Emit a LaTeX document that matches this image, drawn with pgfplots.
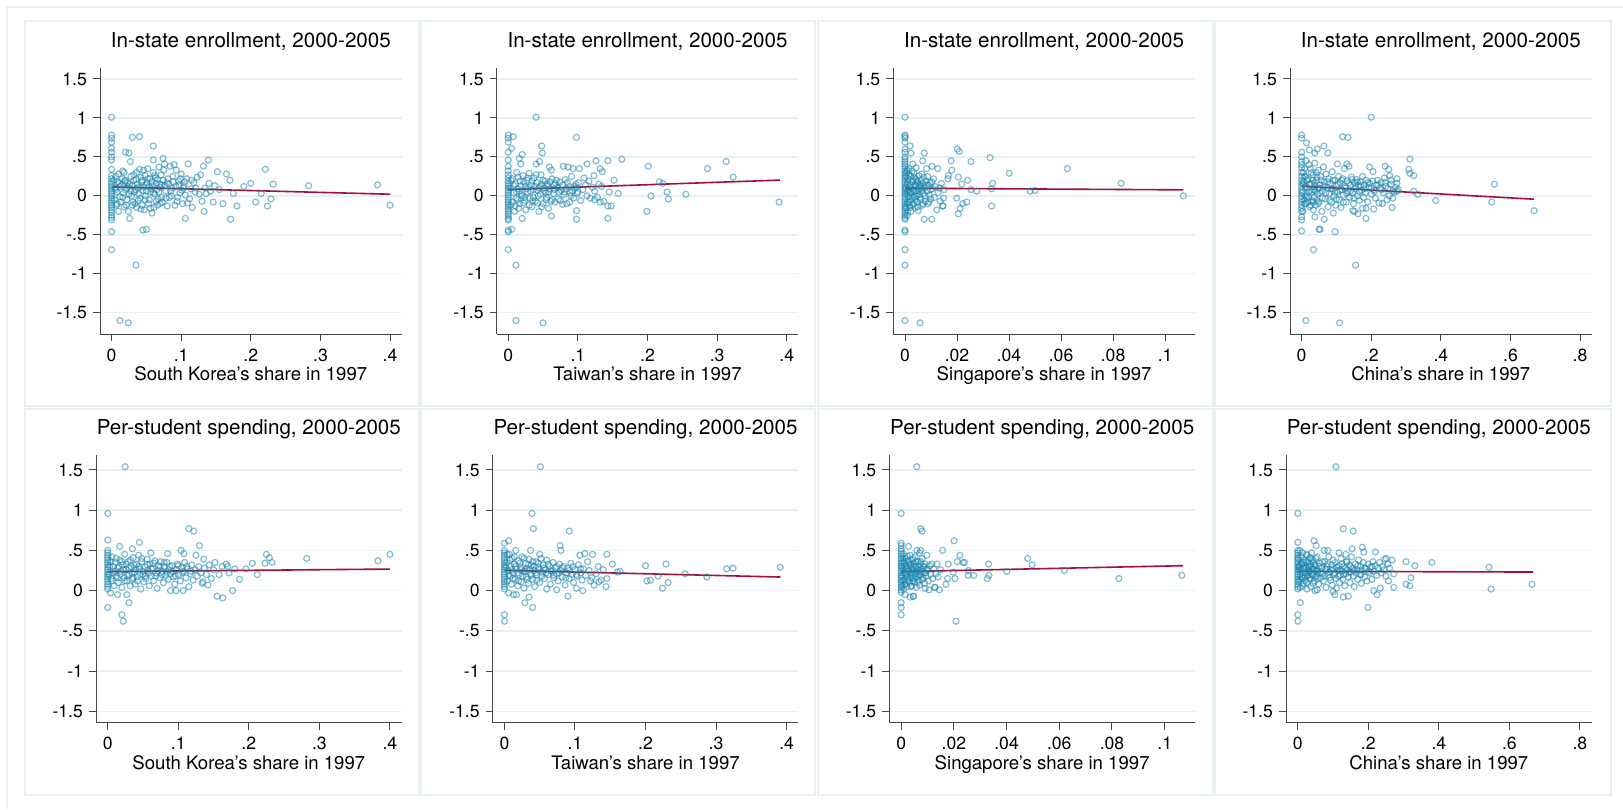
\documentclass[border=0pt]{standalone}
\usepackage{fontspec}
\setmainfont{TeX Gyre Heros}
\usepackage{pgfplots}
\pgfplotsset{compat=1.18}

\definecolor{mblue}{RGB}{26,133,173}
\definecolor{fitred}{RGB}{165,15,52}
\definecolor{gridc}{RGB}{233,240,242}
\definecolor{panelc}{RGB}{232,240,242}
\definecolor{axisgray}{RGB}{70,70,70}

\pgfplotsset{
  panel/.style={
    scale only axis, clip=false,
    axis x line*=bottom, axis y line*=left,
    axis line style={draw=axisgray, line width=0.5pt},
    tick align=outside, major tick length=3.5pt,
    tick style={draw=axisgray, line width=0.5pt},
    ymajorgrids, grid style={draw=gridc, line width=0.7pt},
    scaled ticks=false,
    /pgf/number format/assume math mode=true,
    ytick={-1.5,-1,-0.5,0,0.5,1,1.5},
    yticklabels={-1.5,-1,-.5,0,.5,1,1.5},
    tick label style={font=\fontsize{8.8}{10}\selectfont, inner sep=0pt},
    yticklabel style={anchor=east, xshift=-2.85pt},
    xticklabel style={anchor=base, yshift=-9.9pt},
    title style={font=\fontsize{10.3}{12}\selectfont, at={(axis description cs:0.5,1)}, anchor=base, yshift=4.2pt},
    xlabel style={font=\fontsize{9.3}{11}\selectfont, at={(axis description cs:0.5,0)}, anchor=base, yshift=-23.2pt},
  },
  toprow/.style={panel, width=150.85pt, height=133.3pt, ymin=-1.777, ymax=1.645,
    title={In-state enrollment, 2000-2005}},
  botrow/.style={panel, width=152.85pt, height=133.85pt, ymin=-1.642, ymax=1.686,
    title={Per-student spending, 2000-2005}},
  korea/.style={xmin=-0.0166, xmax=0.4167, xtick={0,0.1,0.2,0.3,0.4}, xticklabels={0,.1,.2,.3,.4},
    xlabel={South Korea's share in 1997}},
  taiwan/.style={xmin=-0.0166, xmax=0.4167, xtick={0,0.1,0.2,0.3,0.4}, xticklabels={0,.1,.2,.3,.4},
    xlabel={Taiwan's share in 1997}},
  singapore/.style={xmin=-0.0045, xmax=0.1115, xtick={0,0.02,0.04,0.06,0.08,0.1}, xticklabels={0,.02,.04,.06,.08,.1},
    xlabel={Singapore's share in 1997}},
  china/.style={xmin=-0.0334, xmax=0.8334, xtick={0,0.2,0.4,0.6,0.8}, xticklabels={0,.2,.4,.6,.8},
    xlabel={China's share in 1997}},
  sc/.style={only marks, mark=o, mark size=1.5pt, draw=mblue, draw opacity=0.55,
    mark options={line width=0.6pt}},
  fit/.style={no marks, draw=fitred, line width=0.8pt},
}

\begin{document}
\begin{tikzpicture}
\path[use as bounding box] (0,0) rectangle (811.5pt,404.5pt);
\draw[panelc, line width=0.8pt] (3.5pt,0pt) -- (3.5pt,401pt) -- (811.5pt,401pt);
\foreach \a/\b in {12.5/209.5, 210.5/407.5, 409/606.5, 607.5/805.5}{
  \draw[panelc, line width=1pt] (\a pt,201.5pt) rectangle (\b pt,394pt);
  \draw[panelc, line width=1pt] (\a pt,7pt) rectangle (\b pt,200pt);
}

% ---------- top row: in-state enrollment ----------
\begin{axis}[toprow, korea, at={(50pt,237.35pt)}, anchor=south west]
\addplot[sc] coordinates {
(0,1.01) (0,0.78) (0,0.74) (0,0.69) (0,0.61) (0,0.56) (0,0.50) (0,0.46) (0,0.34) (0,0.26)
(0,0.22) (0,0.18) (0,0.15) (0,0.12) (0,0.09) (0,0.06) (0,0.03) (0,0.0) (0,-0.03) (0,-0.06)
(0,-0.09) (0,-0.12) (0,-0.15) (0,-0.18) (0,-0.21) (0,-0.25) (0,-0.28) (0,-0.31) (0,-0.46) (0,-0.69)
(0.003,0.2) (0.004,-0.05) (0.005,0.1) (0.006,0.25) (0.007,-0.12) (0.008,0.05) (0.009,0.18) (0.01,-0.2)
(0.012,-1.60) (0.024,-1.63) (0.035,-0.89) (0.045,-0.44) (0.05,-0.43) (0.03,0.75) (0.04,0.76) (0.06,0.64)
(0.02,0.56) (0.025,0.55) (0.027,0.44) (0.074,0.48) (0.06,0.46)
(0.012,0.12) (0.015,0.22) (0.016,-0.02) (0.018,0.30) (0.02,0.08) (0.021,-0.12) (0.023,0.17) (0.025,0.02)
(0.026,-0.29) (0.028,0.25) (0.03,0.13) (0.031,-0.08) (0.033,0.05) (0.035,0.21) (0.036,-0.15) (0.038,0.10)
(0.04,0.34) (0.041,-0.03) (0.043,0.18) (0.045,0.07) (0.047,-0.18) (0.048,0.26) (0.05,0.14) (0.052,0.35)
(0.054,-0.05) (0.055,0.22) (0.057,0.09) (0.058,-0.22) (0.06,0.30) (0.062,0.02) (0.064,0.16) (0.066,-0.12)
(0.068,0.37) (0.07,0.11) (0.072,-0.02) (0.074,0.20) (0.076,0.41) (0.078,0.06) (0.08,-0.13) (0.082,0.15)
(0.084,0.38) (0.086,0.0) (0.088,0.25) (0.09,0.40) (0.092,0.12) (0.094,-0.07) (0.096,0.19) (0.098,0.04)
(0.1,0.28) (0.102,-0.1) (0.104,0.13) (0.106,0.01) (0.108,0.22) (0.11,0.41) (0.112,-0.04) (0.114,0.09)
(0.116,-0.15) (0.118,0.17) (0.12,0.05) (0.123,0.24) (0.126,0.02) (0.128,0.27) (0.13,-0.07) (0.132,0.38)
(0.134,0.1) (0.136,0.03) (0.139,0.46) (0.14,0.16) (0.142,0.06) (0.146,-0.08) (0.148,0.13) (0.133,-0.2)
(0.106,-0.29) (0.152,0.31) (0.155,0.08) (0.16,-0.1) (0.165,0.28) (0.17,0.20) (0.171,-0.30) (0.175,0.03)
(0.18,-0.13) (0.19,0.12) (0.2,0.16) (0.207,-0.08) (0.221,0.34) (0.224,-0.13) (0.229,-0.04) (0.232,0.15)
(0.215,0.03) (0.283,0.13) (0.382,0.14) (0.4,-0.12)
(0.011,0.16) (0.013,-0.08) (0.017,0.04) (0.019,0.19) (0.022,-0.05) (0.024,0.12) (0.029,0.0) (0.032,0.2)
(0.034,-0.1) (0.037,0.15) (0.039,0.02) (0.042,0.24) (0.044,-0.12) (0.046,0.11) (0.049,0.0) (0.051,0.17)
(0.053,-0.1) (0.056,0.05) (0.059,0.13) (0.061,-0.15) (0.063,0.23) (0.065,0.08) (0.067,-0.04) (0.069,0.15)
(0.071,0.27) (0.073,-0.08) (0.077,0.13) (0.081,0.22) (0.083,-0.02) (0.087,0.1) (0.091,-0.12) (0.093,0.33)
(0.097,0.14) (0.101,0.07) (0.105,0.18)
(0.006,0.08) (0.008,-0.1) (0.01,0.28) (0.012,-0.01) (0.014,0.14) (0.016,0.32) (0.018,-0.14) (0.02,0.2)
(0.022,0.1) (0.024,-0.2) (0.026,0.15) (0.028,0.06) (0.03,-0.12) (0.032,0.27) (0.034,0.08) (0.036,0.3)
(0.038,-0.06) (0.04,0.12) (0.042,-0.17) (0.044,0.2) (0.046,0.33) (0.048,-0.05) (0.05,0.06) (0.052,0.22)
(0.054,0.12) (0.056,-0.16) (0.058,0.18) (0.06,0.04) (0.062,0.26) (0.064,-0.07) (0.066,0.21) (0.068,0.05)
(0.07,-0.1) (0.072,0.14) (0.075,0.33) (0.078,-0.03) (0.08,0.17) (0.085,0.06) (0.089,0.18) (0.095,-0.02)
(0.099,0.22) (0.103,0.1) (0.109,-0.09) (0.115,0.2) (0.121,0.1)
};
\addplot[fit] coordinates {(0,0.115) (0.4,0.021)};
\end{axis}

\begin{axis}[toprow, taiwan, at={(248.35pt,237.35pt)}, anchor=south west]
\addplot[sc] coordinates {
(0,0.78) (0,0.74) (0,0.69) (0,0.56) (0,0.46) (0,0.38) (0,0.32) (0,0.27) (0,0.23) (0,0.19)
(0,0.16) (0,0.13) (0,0.10) (0,0.07) (0,0.04) (0,0.01) (0,-0.02) (0,-0.05) (0,-0.08) (0,-0.11)
(0,-0.14) (0,-0.17) (0,-0.2) (0,-0.23) (0,-0.26) (0,-0.29) (0,-0.31) (0,-0.44) (0,-0.46) (0,-0.69)
(0.005,0.61) (0.007,0.76) (0.005,-0.43)
(0.04,1.01) (0.098,0.75) (0.048,0.64) (0.049,0.55) (0.016,0.48) (0.02,0.53) (0.018,0.41) (0.04,0.41)
(0.045,0.44) (0.059,0.37) (0.062,0.33) (0.079,0.38) (0.086,0.37) (0.093,0.35) (0.102,0.35) (0.113,0.41)
(0.126,0.45) (0.143,0.45) (0.163,0.47) (0.132,0.35) (0.123,0.26) (0.152,0.20) (0.134,0.12) (0.158,0.03)
(0.201,0.38) (0.217,0.18) (0.222,0.16) (0.205,0.0) (0.228,0.05) (0.23,-0.04) (0.255,0.02) (0.286,0.35)
(0.313,0.44) (0.323,0.24) (0.389,-0.08) (0.199,-0.2) (0.143,-0.13) (0.148,-0.13) (0.143,-0.29) (0.098,-0.19)
(0.098,-0.3) (0.062,-0.26) (0.02,-0.29) (0.011,-0.89) (0.011,-1.6) (0.05,-1.63) (0.132,-0.08) (0.124,-0.05)
(0.003,0.1) (0.004,-0.12) (0.006,0.22) (0.008,0.04) (0.009,-0.2) (0.01,0.15) (0.012,0.3) (0.013,-0.05)
(0.014,0.09) (0.015,-0.16) (0.017,0.19) (0.019,0.02) (0.021,0.26) (0.022,-0.09) (0.024,0.12) (0.025,-0.18)
(0.027,0.2) (0.028,0.05) (0.03,0.29) (0.031,-0.03) (0.033,0.14) (0.034,-0.14) (0.036,0.08) (0.037,0.23)
(0.039,-0.07) (0.041,0.17) (0.043,0.0) (0.044,-0.2) (0.046,0.12) (0.047,0.27) (0.05,-0.1) (0.052,0.06)
(0.053,0.19) (0.055,-0.02) (0.057,0.13) (0.058,-0.16) (0.06,0.09) (0.063,0.22) (0.065,0.03) (0.067,-0.08)
(0.068,0.16) (0.07,0.11) (0.072,-0.04) (0.074,0.18) (0.076,0.07) (0.078,-0.11) (0.08,0.02) (0.082,0.21)
(0.084,-0.1) (0.087,0.12) (0.089,0.04) (0.091,0.25) (0.094,-0.03) (0.096,0.1) (0.099,0.03) (0.101,0.17)
(0.104,-0.06) (0.107,0.08) (0.109,0.23) (0.111,0.14) (0.113,0.0) (0.116,0.19) (0.118,-0.03) (0.121,0.11)
(0.124,0.06) (0.128,-0.02) (0.13,0.15) (0.137,-0.07) (0.135,0.31) (0.145,0.05)
(0.011,-0.03) (0.016,0.06) (0.023,-0.02) (0.029,0.11) (0.035,-0.06) (0.042,0.07) (0.048,0.15) (0.054,0.04)
(0.061,-0.07) (0.066,0.14) (0.073,0.05) (0.083,0.09) (0.088,-0.08) (0.092,0.06) (0.097,0.15)
(0.004,0.2) (0.006,-0.08) (0.008,0.13) (0.01,-0.13) (0.012,0.05) (0.014,0.24) (0.016,-0.1) (0.018,0.13)
(0.02,0.0) (0.022,0.18) (0.024,-0.06) (0.026,0.09) (0.028,0.23) (0.03,-0.12) (0.032,0.06) (0.034,0.19)
(0.036,-0.02) (0.038,0.12) (0.04,0.27) (0.042,-0.09) (0.044,0.1) (0.046,0.02) (0.048,-0.14) (0.05,0.2)
(0.052,0.1) (0.054,-0.05) (0.056,0.15) (0.058,0.05) (0.06,0.18) (0.063,-0.05) (0.066,0.08) (0.069,0.2)
(0.072,0.1) (0.075,-0.06) (0.078,0.14) (0.081,0.05) (0.085,0.17) (0.09,0.0) (0.095,0.12) (0.1,0.05)
};
\addplot[fit] coordinates {(0,0.081) (0.39,0.202)};
\end{axis}

\begin{axis}[toprow, singapore, at={(446.65pt,237.35pt)}, anchor=south west]
\addplot[sc] coordinates {
(0,1.01) (0,0.78) (0,0.76) (0,0.74) (0,0.69) (0,0.6) (0,0.56) (0,0.5) (0,0.47) (0,0.44)
(0,0.41) (0,0.38) (0,0.35) (0,0.32) (0,0.29) (0,0.26) (0,0.23) (0,0.2) (0,0.17) (0,0.14)
(0,0.11) (0,0.08) (0,0.05) (0,0.02) (0,-0.01) (0,-0.04) (0,-0.07) (0,-0.1) (0,-0.13) (0,-0.16)
(0,-0.19) (0,-0.22) (0,-0.25) (0,-0.28) (0,-0.3) (0,-0.44) (0,-0.46) (0,-0.69) (0,-0.89) (0,-1.6)
(0.0058,-1.63)
(0.0006,0.3) (0.0007,-0.1) (0.0008,0.15) (0.001,0.05) (0.001,-0.2) (0.0012,0.22) (0.0014,0.0) (0.0015,0.35)
(0.0016,-0.08) (0.0018,0.12) (0.002,-0.15) (0.002,0.64) (0.0023,0.55) (0.0022,0.25) (0.0024,0.04) (0.0026,-0.05)
(0.0028,0.18) (0.003,0.41) (0.003,-0.12) (0.0032,0.08) (0.0034,0.29) (0.0036,-0.02) (0.0038,0.14) (0.004,-0.15)
(0.0042,0.21) (0.0044,0.06) (0.0046,-0.08) (0.0048,0.17) (0.005,0.1) (0.0051,-0.19) (0.0053,0.26) (0.0055,0.02)
(0.0057,0.13) (0.006,-0.05) (0.0062,0.2) (0.0064,0.07) (0.0066,-0.12) (0.0068,0.45) (0.0068,0.16) (0.007,0.03)
(0.0072,0.24) (0.0074,0.55) (0.0074,-0.3) (0.0076,0.11) (0.0078,-0.07) (0.008,0.19) (0.0083,0.35) (0.0085,0.06)
(0.0088,-0.1) (0.009,0.14) (0.0093,0.01) (0.0096,0.17) (0.0099,-0.04) (0.0103,0.38) (0.0103,-0.3) (0.0106,0.09)
(0.011,0.22) (0.0113,-0.02) (0.0116,0.12) (0.0122,-0.18) (0.0126,0.35) (0.0128,0.04) (0.0132,0.1) (0.0135,-0.07)
(0.014,0.16) (0.0145,-0.13) (0.0148,-0.03) (0.015,0.08)
(0.0201,0.6) (0.0208,0.57) (0.0177,0.45) (0.018,0.33) (0.0167,0.26) (0.0327,0.49) (0.0254,0.44) (0.0205,0.24)
(0.0241,0.2) (0.0218,0.15) (0.0337,0.16) (0.0333,0.09) (0.0254,0.08) (0.0276,0.06) (0.0401,0.29) (0.0481,0.06)
(0.05,0.07) (0.0624,0.35) (0.0831,0.16) (0.107,0.0) (0.0199,-0.03) (0.0222,-0.1) (0.0237,-0.08) (0.0212,-0.16)
(0.0205,-0.23) (0.0333,-0.13) (0.0145,-0.13) (0.0165,0.22)
(0.0003,0.1) (0.0004,-0.15) (0.0005,0.25) (0.0006,0.02) (0.0008,-0.25) (0.0009,0.33) (0.001,0.18) (0.0011,-0.08)
(0.0013,0.08) (0.0015,0.27) (0.0017,-0.12) (0.0019,0.04) (0.0021,0.15) (0.0023,-0.2) (0.0025,0.1) (0.0027,0.32)
(0.0029,-0.01) (0.0031,0.2) (0.0033,-0.1) (0.0035,0.06) (0.0037,0.24) (0.0039,-0.05) (0.0041,0.12) (0.0043,0.36)
(0.0045,0.0) (0.0047,0.19) (0.0049,-0.14) (0.0052,0.07) (0.0055,0.15) (0.0058,-0.02) (0.0061,0.11) (0.0065,0.28)
(0.0069,-0.1) (0.0073,0.1) (0.0077,0.0) (0.0082,0.14) (0.0087,0.25) (0.0092,-0.08) (0.0098,0.08) (0.0104,0.18)
};
\addplot[fit] coordinates {(0,0.098) (0.107,0.077)};
\end{axis}

\begin{axis}[toprow, china, at={(645pt,237.35pt)}, anchor=south west]
\addplot[sc] coordinates {
(0,0.78) (0,0.74) (0,0.56) (0,0.5) (0,0.44) (0,0.4) (0,0.36) (0,0.3) (0,0.25) (0,0.2)
(0,0.16) (0,0.12) (0,0.08) (0,0.04) (0,0.0) (0,-0.04) (0,-0.08) (0,-0.12) (0,-0.16) (0,-0.2)
(0,-0.27) (0,-0.31) (0,-0.45)
(0.2,1.01) (0.118,0.76) (0.133,0.75) (0.014,0.68) (0.064,0.64) (0.075,0.55) (0.045,0.6) (0.038,0.55)
(0.022,0.59) (0.311,0.47) (0.308,0.34) (0.311,0.29) (0.322,0.26) (0.24,0.38) (0.25,0.34) (0.195,0.37)
(0.205,0.31) (0.103,0.41) (0.13,0.41) (0.274,0.22) (0.274,0.16) (0.257,0.2) (0.253,0.26) (0.322,0.06)
(0.334,0.02) (0.385,-0.06) (0.546,-0.08) (0.554,0.15) (0.668,-0.19) (0.26,-0.15) (0.262,-0.03) (0.207,-0.17)
(0.185,-0.29) (0.175,-0.16) (0.185,-0.16) (0.152,-0.2) (0.147,-0.19) (0.162,-0.23) (0.096,-0.46) (0.05,-0.43)
(0.053,-0.43) (0.034,-0.69) (0.155,-0.89) (0.012,-1.6) (0.109,-1.63) (0.034,-0.18) (0.038,-0.27) (0.065,-0.3)
(0.091,-0.22)
(0.005,0.3) (0.008,-0.1) (0.01,0.12) (0.013,0.45) (0.015,-0.02) (0.018,0.22) (0.02,0.05) (0.023,-0.14)
(0.025,0.35) (0.028,0.15) (0.03,-0.06) (0.033,0.27) (0.035,0.08) (0.038,0.42) (0.04,-0.12) (0.043,0.2)
(0.045,0.02) (0.048,0.33) (0.05,-0.08) (0.053,0.14) (0.055,0.25) (0.058,-0.2) (0.06,0.06) (0.063,0.37)
(0.065,0.18) (0.068,-0.04) (0.07,0.28) (0.073,0.1) (0.076,-0.14) (0.078,0.22) (0.08,0.03) (0.083,0.16)
(0.086,-0.08) (0.088,0.31) (0.09,0.09) (0.093,0.0) (0.096,0.2) (0.098,-0.12) (0.1,0.13) (0.103,0.05)
(0.106,0.25) (0.108,-0.05) (0.11,0.17) (0.113,-0.15) (0.115,0.08) (0.118,0.22) (0.12,0.01) (0.123,0.35)
(0.125,0.12) (0.128,-0.08) (0.13,0.19) (0.133,0.06) (0.136,0.38) (0.138,-0.02) (0.14,0.14) (0.143,0.24)
(0.146,0.04) (0.149,-0.1) (0.152,0.17) (0.155,0.09) (0.158,0.21) (0.16,0.0) (0.163,0.13) (0.166,-0.06)
(0.169,0.18) (0.172,0.07) (0.175,0.25) (0.178,-0.02) (0.18,0.14) (0.183,0.04) (0.186,0.2) (0.19,-0.08)
(0.193,0.11) (0.196,0.16) (0.2,0.02) (0.204,0.19) (0.208,0.08) (0.212,-0.03) (0.215,0.14) (0.218,0.2)
(0.222,-0.09) (0.225,0.1) (0.228,0.17) (0.232,-0.1) (0.235,0.04) (0.238,0.23) (0.242,0.12) (0.245,-0.05)
(0.248,0.09) (0.252,0.0) (0.256,0.15) (0.262,0.07) (0.266,0.05) (0.27,0.11) (0.274,0.06) (0.278,0.08)
(0.003,0.05) (0.004,-0.2) (0.006,0.18) (0.007,-0.05) (0.009,0.35) (0.011,0.0) (0.012,0.25) (0.016,0.1)
(0.019,-0.08) (0.021,0.4) (0.024,0.16) (0.027,-0.12) (0.029,0.05) (0.032,0.2) (0.036,-0.02) (0.039,0.12)
(0.042,0.3) (0.044,-0.06) (0.047,0.1) (0.052,0.04)
(0.004,0.15) (0.008,0.25) (0.012,-0.1) (0.016,0.2) (0.02,-0.02) (0.024,0.07) (0.028,0.3) (0.032,-0.08)
(0.036,0.17) (0.04,0.06) (0.044,0.24) (0.048,-0.1) (0.052,0.1) (0.056,0.2) (0.06,-0.03) (0.065,0.12)
(0.07,0.04) (0.075,0.18) (0.08,-0.06) (0.085,0.09) (0.09,0.2) (0.095,0.05) (0.1,-0.04) (0.105,0.15)
(0.11,0.07) (0.115,0.2) (0.12,-0.08) (0.125,0.1) (0.13,0.03) (0.135,0.16) (0.14,0.06) (0.145,0.21)
(0.15,-0.03) (0.155,0.12) (0.16,0.18) (0.165,0.05) (0.17,0.13) (0.18,0.09) (0.19,0.17) (0.2,0.1)
(0.21,0.06) (0.22,0.14) (0.23,0.08) (0.24,0.17)
};
\addplot[fit] coordinates {(0,0.124) (0.667,-0.043)};
\end{axis}

% ---------- bottom row: per-student spending ----------
\begin{axis}[botrow, korea, at={(48pt,43.15pt)}, anchor=south west]
\addplot[sc] coordinates {
(0,0.96) (0,0.63) (0,0.5) (0,0.47) (0,0.44) (0,0.41) (0,0.38) (0,0.35) (0,0.32) (0,0.29)
(0,0.26) (0,0.23) (0,0.2) (0,0.17) (0,0.14) (0,0.11) (0,0.08) (0,0.05) (0,0.02) (0,-0.21)
(0.004,-0.03)
(0.0247,1.54) (0.115,0.77) (0.122,0.74) (0.13,0.56) (0.045,0.6) (0.017,0.55) (0.035,0.52) (0.061,0.47)
(0.085,0.46) (0.104,0.5) (0.108,0.46) (0.125,0.44) (0.136,0.39) (0.152,0.35) (0.168,0.33) (0.17,0.3)
(0.196,0.27) (0.205,0.34) (0.212,0.2) (0.187,0.14) (0.177,0.0) (0.155,-0.07) (0.163,-0.09) (0.142,0.07)
(0.135,0.11) (0.225,0.45) (0.229,0.41) (0.233,0.35) (0.223,0.34) (0.282,0.4) (0.383,0.37) (0.4,0.45)
(0.02,-0.3) (0.022,-0.38) (0.03,-0.15) (0.027,-0.05) (0.014,-0.05) (0.089,0.0) (0.097,0.0) (0.107,0.0)
(0.003,0.3) (0.005,0.15) (0.006,0.42) (0.008,0.22) (0.009,0.06) (0.011,0.35) (0.012,0.18) (0.014,0.28)
(0.015,0.1) (0.017,0.38) (0.018,0.24) (0.02,0.04) (0.021,0.32) (0.023,0.16) (0.024,0.45) (0.026,0.26)
(0.027,0.12) (0.029,0.36) (0.03,0.2) (0.032,0.06) (0.033,0.3) (0.035,0.14) (0.036,0.41) (0.038,0.23)
(0.039,0.08) (0.041,0.33) (0.042,0.17) (0.044,0.44) (0.045,0.27) (0.047,0.02) (0.048,0.36) (0.05,0.2)
(0.051,0.11) (0.053,0.29) (0.054,0.15) (0.056,0.39) (0.057,0.25) (0.059,0.06) (0.06,0.33) (0.062,0.18)
(0.064,0.28) (0.065,0.12) (0.067,0.37) (0.069,0.22) (0.07,0.03) (0.072,0.31) (0.074,0.16) (0.075,0.36)
(0.077,0.24) (0.079,0.1) (0.08,0.3) (0.082,0.19) (0.084,0.35) (0.086,0.14) (0.087,0.26) (0.089,0.21)
(0.091,0.31) (0.093,0.17) (0.095,0.08) (0.097,0.26) (0.099,0.33) (0.101,0.2) (0.103,0.12) (0.105,0.29)
(0.107,0.24) (0.109,0.35) (0.111,0.16) (0.113,0.27) (0.115,0.05) (0.117,0.21) (0.119,0.32) (0.121,0.13)
(0.124,0.26) (0.127,0.18) (0.129,0.3) (0.132,0.22) (0.134,0.09) (0.137,0.28) (0.14,0.2) (0.144,0.32)
(0.147,0.15) (0.15,0.26) (0.158,0.2) (0.162,0.3) (0.172,0.22) (0.18,0.27)
(0.002,0.2) (0.004,0.36) (0.006,0.12) (0.008,0.3) (0.01,0.24) (0.012,0.4) (0.014,0.16) (0.016,0.3)
(0.018,0.2) (0.02,0.36) (0.022,0.26) (0.024,0.12) (0.026,0.33) (0.028,0.19) (0.03,0.28) (0.032,0.38)
(0.034,0.22) (0.036,0.16) (0.038,0.32) (0.04,0.26) (0.042,0.12) (0.044,0.3) (0.046,0.2) (0.048,0.4)
(0.05,0.24) (0.053,0.18) (0.056,0.32) (0.059,0.22) (0.062,0.27) (0.065,0.34) (0.068,0.18) (0.071,0.25)
(0.074,0.29) (0.077,0.2) (0.08,0.35) (0.084,0.23) (0.088,0.3) (0.092,0.24) (0.096,0.18) (0.1,0.31)
(0.106,0.22) (0.112,0.3) (0.118,0.24)
};
\addplot[fit] coordinates {(0,0.236) (0.4,0.268)};
\end{axis}

\begin{axis}[botrow, taiwan, at={(246.35pt,43.15pt)}, anchor=south west]
\addplot[sc] coordinates {
(0,0.59) (0,0.5) (0,0.47) (0,0.44) (0,0.41) (0,0.38) (0,0.35) (0,0.32) (0,0.29) (0,0.26)
(0,0.23) (0,0.2) (0,0.17) (0,0.14) (0,0.11) (0,0.08) (0,0.05) (0,0.02) (0,-0.3) (0,-0.38)
(0.006,0.62) (0.006,-0.03)
(0.051,1.54) (0.039,0.96) (0.041,0.77) (0.092,0.74) (0.079,0.56) (0.08,0.5) (0.037,0.5) (0.05,0.45)
(0.107,0.44) (0.114,0.46) (0.125,0.45) (0.145,0.45) (0.153,0.33) (0.133,0.3) (0.2,0.31) (0.229,0.33)
(0.256,0.21) (0.287,0.17) (0.315,0.27) (0.324,0.28) (0.391,0.29) (0.218,0.18) (0.202,0.12) (0.207,0.13)
(0.232,0.1) (0.224,0.03) (0.16,0.23) (0.164,0.24) (0.145,0.15) (0.144,0.05) (0.127,0.07) (0.134,0.11)
(0.122,0.12) (0.111,0.0) (0.102,0.03) (0.09,-0.07) (0.06,0.02) (0.074,0.01) (0.029,-0.15) (0.035,-0.08)
(0.04,-0.21) (0.013,-0.05) (0.017,-0.05)
(0.003,0.35) (0.004,0.12) (0.005,0.25) (0.007,0.45) (0.008,0.18) (0.009,0.3) (0.01,0.08) (0.011,0.4)
(0.012,0.22) (0.014,0.33) (0.015,0.14) (0.016,0.5) (0.017,0.27) (0.019,0.06) (0.02,0.37) (0.021,0.2)
(0.023,0.29) (0.024,0.11) (0.025,0.42) (0.027,0.24) (0.028,0.03) (0.03,0.34) (0.031,0.17) (0.032,0.27)
(0.034,0.09) (0.035,0.39) (0.037,0.21) (0.038,0.31) (0.04,0.14) (0.042,0.25) (0.043,0.05) (0.045,0.36)
(0.046,0.19) (0.048,0.29) (0.05,0.1) (0.052,0.4) (0.053,0.23) (0.055,0.32) (0.057,0.15) (0.058,0.26)
(0.06,0.38) (0.062,0.2) (0.064,0.3) (0.065,0.08) (0.067,0.24) (0.069,0.35) (0.07,0.16) (0.072,0.28)
(0.074,0.21) (0.076,0.12) (0.078,0.33) (0.08,0.25) (0.082,0.17) (0.084,0.3) (0.086,0.07) (0.088,0.22)
(0.09,0.28) (0.092,0.15) (0.094,0.34) (0.096,0.2) (0.098,0.1) (0.1,0.26) (0.103,0.18) (0.105,0.32)
(0.108,0.22) (0.11,0.13) (0.112,0.27) (0.115,0.19) (0.118,0.36) (0.12,0.25) (0.124,0.16) (0.13,0.21)
(0.137,0.13) (0.14,0.26)
(0.002,0.3) (0.004,0.45) (0.006,0.2) (0.008,0.38) (0.01,0.26) (0.012,0.15) (0.014,0.42) (0.016,0.3)
(0.018,0.22) (0.02,0.12) (0.022,0.34) (0.024,0.26) (0.026,0.18) (0.028,0.4) (0.03,0.24) (0.032,0.14)
(0.034,0.32) (0.036,0.27) (0.038,0.19) (0.04,0.36) (0.042,0.3) (0.044,0.22) (0.046,0.13) (0.048,0.34)
(0.05,0.26) (0.053,0.18) (0.056,0.28) (0.059,0.22) (0.062,0.33) (0.066,0.25) (0.07,0.19) (0.074,0.3)
(0.078,0.22) (0.082,0.28) (0.087,0.16) (0.092,0.25) (0.097,0.3) (0.102,0.2) (0.108,0.27)
};
\addplot[fit] coordinates {(0,0.252) (0.391,0.169)};
\end{axis}

\begin{axis}[botrow, singapore, at={(444.65pt,43.15pt)}, anchor=south west]
\addplot[sc] coordinates {
(0,0.96) (0,0.59) (0,0.56) (0,0.52) (0,0.49) (0,0.46) (0,0.43) (0,0.4) (0,0.37) (0,0.34)
(0,0.31) (0,0.28) (0,0.25) (0,0.22) (0,0.19) (0,0.16) (0,0.13) (0,0.1) (0,0.07) (0,0.04)
(0,0.01) (0,-0.02) (0,-0.15) (0,-0.21) (0,-0.3)
(0.0005,0.35) (0.0006,0.12) (0.0008,0.45) (0.001,0.22) (0.001,0.02) (0.0012,0.3) (0.0014,0.08) (0.0015,-0.05)
(0.0016,0.4) (0.0018,0.17) (0.002,0.27) (0.0022,0.05) (0.0024,0.37) (0.0026,0.14) (0.0028,0.55) (0.0028,0.24)
(0.003,0.33) (0.0032,0.1) (0.0034,-0.08) (0.0034,0.44) (0.0036,0.2) (0.0038,0.29) (0.004,0.06) (0.0042,0.38)
(0.0044,0.16) (0.0046,-0.07) (0.0046,0.25) (0.0048,0.34) (0.005,0.11) (0.0052,0.42) (0.0054,0.21) (0.0056,0.3)
(0.0058,0.04) (0.006,0.5) (0.006,0.18) (0.0062,0.26) (0.0064,0.36) (0.0066,0.13) (0.0068,0.23) (0.007,0.47)
(0.007,0.07) (0.0072,0.32) (0.0074,0.5) (0.0074,0.19) (0.0076,0.27) (0.0079,0.4) (0.0081,0.14) (0.0083,0.3)
(0.0086,0.22) (0.0089,0.09) (0.0091,0.33) (0.0094,0.18) (0.0097,0.44) (0.0099,0.26) (0.0103,0.12) (0.0106,0.01)
(0.0108,0.31) (0.0112,0.2) (0.0116,0.33) (0.012,0.15) (0.0124,0.27) (0.0128,0.04) (0.0132,0.21) (0.0136,0.33)
(0.014,0.17) (0.0145,0.01) (0.015,0.26)
(0.0059,1.54) (0.0074,0.77) (0.0079,0.74) (0.0201,0.62) (0.0157,0.5) (0.0223,0.44) (0.0213,0.36) (0.0179,0.33)
(0.0235,0.35) (0.024,0.35) (0.0332,0.33) (0.048,0.4) (0.0497,0.32) (0.0255,0.25) (0.0275,0.19) (0.0254,0.19)
(0.0333,0.19) (0.0327,0.15) (0.0401,0.24) (0.0619,0.25) (0.0826,0.15) (0.1065,0.19) (0.0197,0.23) (0.0204,0.15)
(0.017,0.08) (0.0176,0.15) (0.0128,0.04) (0.0091,0.03) (0.0208,-0.38) (0.0047,-0.07)
(0.0003,0.3) (0.0004,0.18) (0.0005,0.06) (0.0007,0.4) (0.0009,0.26) (0.0011,0.14) (0.0013,0.35) (0.0015,0.22)
(0.0017,0.08) (0.0019,0.31) (0.0021,0.2) (0.0023,0.43) (0.0025,0.27) (0.0027,0.12) (0.0029,0.36) (0.0031,0.24)
(0.0033,0.16) (0.0035,0.32) (0.0037,0.05) (0.0039,0.22) (0.0041,0.28) (0.0043,0.12) (0.0045,0.4) (0.0047,0.2)
(0.005,0.3) (0.0053,0.15) (0.0056,0.36) (0.0059,0.23) (0.0062,0.1) (0.0066,0.3) (0.007,0.2) (0.0074,0.36)
(0.0078,0.24) (0.0083,0.16) (0.0088,0.3) (0.0093,0.22) (0.0098,0.27)
};
\addplot[fit] coordinates {(0,0.236) (0.107,0.31)};
\end{axis}

\begin{axis}[botrow, china, at={(643pt,43.15pt)}, anchor=south west]
\addplot[sc] coordinates {
(0,0.96) (0,0.6) (0,0.5) (0,0.47) (0,0.44) (0,0.41) (0,0.38) (0,0.35) (0,0.32) (0,0.29)
(0,0.26) (0,0.23) (0,0.2) (0,0.17) (0,0.14) (0,0.11) (0,0.08) (0,0.05) (0,0.02) (0,-0.3)
(0,-0.38) (0.007,-0.15)
(0.108,1.54) (0.129,0.77) (0.157,0.74) (0.046,0.62) (0.052,0.56) (0.154,0.52) (0.183,0.54) (0.187,0.48)
(0.22,0.48) (0.075,0.5) (0.085,0.5) (0.117,0.47) (0.136,0.45) (0.307,0.36) (0.332,0.31) (0.38,0.35)
(0.542,0.29) (0.548,0.02) (0.664,0.08) (0.268,0.38) (0.251,0.4) (0.246,0.39) (0.272,0.21) (0.272,0.04)
(0.257,0.12) (0.321,0.16) (0.307,0.08) (0.318,0.06) (0.234,0.03) (0.225,-0.05) (0.215,0.0) (0.199,-0.21)
(0.129,-0.08) (0.143,-0.07) (0.105,-0.05) (0.1,-0.01) (0.049,0.0) (0.055,0.01)
(0.005,0.3) (0.008,0.14) (0.01,0.42) (0.012,0.22) (0.015,0.06) (0.017,0.35) (0.02,0.18) (0.022,0.28)
(0.025,0.1) (0.027,0.44) (0.03,0.25) (0.032,0.15) (0.035,0.33) (0.037,0.05) (0.04,0.2) (0.042,0.38)
(0.045,0.27) (0.047,0.12) (0.05,0.31) (0.053,0.18) (0.055,0.42) (0.058,0.24) (0.06,0.08) (0.063,0.34)
(0.065,0.16) (0.068,0.28) (0.07,0.21) (0.073,0.12) (0.076,0.36) (0.078,0.26) (0.08,0.04) (0.083,0.3)
(0.086,0.19) (0.088,0.42) (0.09,0.23) (0.093,0.13) (0.096,0.32) (0.098,0.07) (0.1,0.27) (0.103,0.2)
(0.106,0.35) (0.108,0.15) (0.11,0.03) (0.113,0.25) (0.116,0.31) (0.118,0.1) (0.12,0.19) (0.123,0.4)
(0.126,0.24) (0.128,0.14) (0.13,0.3) (0.133,0.06) (0.136,0.21) (0.138,0.36) (0.14,0.26) (0.143,0.17)
(0.146,0.32) (0.148,0.1) (0.15,0.23) (0.153,0.42) (0.156,0.28) (0.158,0.18) (0.16,0.05) (0.163,0.33)
(0.166,0.22) (0.168,0.26) (0.17,0.14) (0.173,0.38) (0.176,0.2) (0.178,0.3) (0.18,0.09) (0.183,0.25)
(0.186,0.35) (0.19,0.17) (0.193,0.27) (0.196,0.12) (0.2,0.33) (0.203,0.22) (0.206,0.29) (0.21,0.14)
(0.213,0.36) (0.216,0.24) (0.22,0.31) (0.224,0.19) (0.228,0.28) (0.232,0.35) (0.236,0.22) (0.24,0.3)
(0.245,0.26) (0.25,0.18) (0.255,0.33) (0.26,0.28)
(0.002,0.4) (0.003,0.12) (0.004,0.25) (0.006,0.5) (0.007,0.04) (0.009,0.33) (0.011,0.17) (0.013,0.47)
(0.014,0.27) (0.016,0.09) (0.018,0.38) (0.019,0.31) (0.021,0.13) (0.023,0.22) (0.024,0.45) (0.026,0.02)
(0.028,0.36) (0.029,0.19) (0.031,0.29) (0.033,0.41) (0.034,0.24) (0.036,0.14) (0.038,0.3) (0.039,0.47)
(0.041,0.21) (0.043,0.09) (0.044,0.35) (0.048,0.17) (0.051,0.4) (0.054,0.26)
(0.003,0.3) (0.006,0.2) (0.009,0.26) (0.012,0.34) (0.015,0.16) (0.018,0.28) (0.021,0.22) (0.024,0.36)
(0.027,0.18) (0.03,0.3) (0.033,0.23) (0.036,0.4) (0.04,0.27) (0.044,0.2) (0.048,0.32) (0.052,0.24)
(0.056,0.15) (0.06,0.3) (0.065,0.22) (0.07,0.36) (0.075,0.18) (0.08,0.27) (0.085,0.33) (0.09,0.16)
(0.095,0.25) (0.1,0.38) (0.105,0.22) (0.11,0.29) (0.115,0.18) (0.12,0.26) (0.125,0.33) (0.13,0.2)
(0.135,0.28) (0.14,0.36) (0.145,0.23) (0.15,0.3) (0.16,0.25) (0.17,0.31) (0.18,0.2) (0.19,0.28)
(0.2,0.24) (0.21,0.3)
};
\addplot[fit] coordinates {(0,0.24) (0.667,0.231)};
\end{axis}
\end{tikzpicture}
\end{document}
